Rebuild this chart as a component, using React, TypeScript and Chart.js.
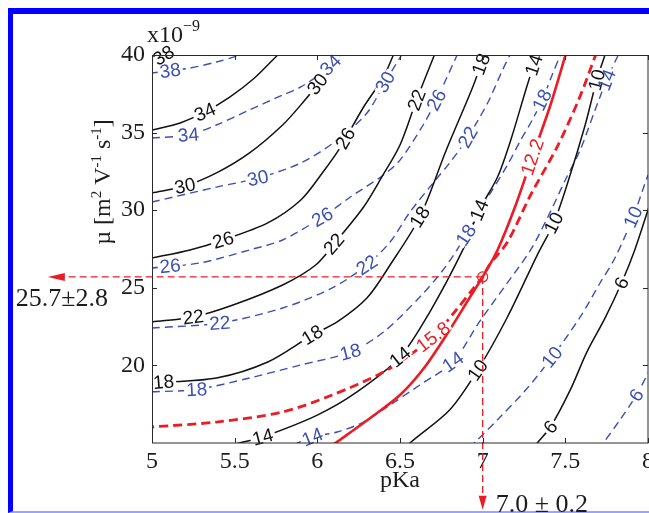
import React, { useEffect, useRef } from 'react';
import { Chart, registerables } from 'chart.js';

Chart.register(...registerables);

type Pt = [number, number];

// ---- axes ----
const xMin = 5;
const xMax = 8;
const yMin = 15;
const yMax = 40;
const xTickValues = [5, 5.5, 6, 6.5, 7, 7.5, 8];
const yTickValues = [20, 25, 30, 35, 40];

// ---- estimate (crosshair) ----
const estPKa = 7.0;
const errPKa = 0.2;
const estMu = 25.7;
const errMu = 2.8;
const arrowPKa = 4.37; // where the left arrow ends (pKa units)
const arrowMu = 10.7; // where the down arrow ends (mu units)

// ---- black solid contours (pKa, mu x1e-9) ----
const black38: Pt[] = [[4.98, 39.45], [5.0, 39.55], [5.04, 39.78], [5.09, 40.1]];
const black34: Pt[] = [[5.0, 35.17], [5.17, 35.62], [5.32, 36.33], [5.47, 37.29], [5.62, 38.52], [5.76, 40.0], [5.8, 40.4]];
const black30: Pt[] = [[5.0, 31.11], [5.2, 31.56], [5.39, 32.4], [5.59, 33.69], [5.79, 35.49], [5.91, 36.91], [6.02, 38.39], [6.1, 40.0], [6.13, 40.5]];
const black26: Pt[] = [[5.0, 26.92], [5.23, 27.44], [5.43, 28.08], [5.7, 29.18], [5.9, 30.66], [6.03, 32.4], [6.14, 34.07], [6.28, 36.65], [6.4, 38.58], [6.46, 40.0], [6.48, 40.5]];
const black22: Pt[] = [[5.0, 22.8], [5.25, 23.12], [5.49, 23.89], [5.79, 25.18], [5.99, 26.47], [6.11, 27.95], [6.28, 30.21], [6.39, 32.14], [6.5, 34.2], [6.6, 37.1], [6.72, 40.32]];
const black18: Pt[] = [[5.0, 18.87], [5.39, 19.19], [5.7, 20.22], [5.97, 21.96], [6.12, 22.8], [6.3, 24.34], [6.44, 26.47], [6.62, 29.56], [6.78, 33.88], [6.94, 37.94], [7.01, 40.0], [7.04, 40.97]];
const black14: Pt[] = [[5.38, 14.62], [5.53, 15.0], [5.67, 15.39], [6.0, 16.8], [6.24, 18.29], [6.5, 20.54], [6.68, 23.44], [6.88, 27.44], [6.98, 30.01], [7.09, 32.14], [7.17, 34.52], [7.27, 38.07], [7.33, 40.0], [7.35, 40.6]];
const black10: Pt[] = [[6.53, 14.55], [6.56, 15.0], [6.8, 17.13], [6.97, 19.7], [7.15, 23.12], [7.33, 27.11], [7.43, 29.18], [7.51, 31.62], [7.62, 35.49], [7.69, 38.39], [7.74, 40.0], [7.76, 40.6]];
const black6: Pt[] = [[7.3, 14.55], [7.33, 15.0], [7.41, 16.03], [7.53, 18.42], [7.63, 20.86], [7.74, 23.05], [7.84, 25.31], [7.92, 27.44], [8.01, 30.34]];

// ---- blue dashed contours ----
const blue38: Pt[] = [[5.0, 38.84], [5.23, 39.16], [5.39, 39.55], [5.53, 40.0], [5.57, 40.3]];
const blue34: Pt[] = [[5.0, 34.65], [5.22, 34.85], [5.39, 35.49], [5.59, 36.46], [5.79, 37.42], [5.9, 37.94], [6.05, 39.03], [6.14, 40.0], [6.17, 40.4]];
const blue30: Pt[] = [[5.0, 30.53], [5.39, 31.49], [5.64, 32.07], [5.9, 33.04], [6.12, 34.52], [6.3, 36.26], [6.41, 38.26], [6.51, 40.0], [6.54, 40.5]];
const blue26: Pt[] = [[5.0, 26.28], [5.29, 26.6], [5.59, 27.44], [5.79, 28.08], [6.03, 29.56], [6.2, 30.85], [6.4, 32.27], [6.5, 33.23], [6.64, 35.49], [6.72, 37.1], [6.84, 39.87], [6.86, 40.32]];
const blue22: Pt[] = [[5.0, 22.41], [5.41, 22.73], [5.79, 23.7], [6.09, 24.99], [6.3, 26.47], [6.44, 27.95], [6.56, 29.88], [6.7, 31.75], [6.8, 33.04], [6.9, 34.52], [7.03, 36.91], [7.12, 39.03], [7.18, 40.32]];
const blue18: Pt[] = [[5.0, 18.3], [5.27, 18.45], [5.59, 19.19], [5.9, 20.03], [6.2, 20.86], [6.4, 22.15], [6.62, 24.41], [6.77, 26.28], [6.9, 28.4], [7.04, 30.98], [7.15, 32.91], [7.23, 34.52], [7.3, 35.81], [7.36, 37.1], [7.42, 38.71], [7.47, 40.0], [7.49, 40.5]];
const blue14: Pt[] = [[5.8, 14.75], [5.88, 15.0], [5.97, 15.39], [6.12, 15.71], [6.28, 16.35], [6.44, 17.45], [6.62, 18.74], [6.82, 20.22], [6.98, 22.8], [7.14, 25.18], [7.29, 27.44], [7.4, 29.69], [7.5, 31.95], [7.59, 33.88], [7.68, 36.46], [7.75, 38.39], [7.82, 40.0], [7.84, 40.4]];
const blue10: Pt[] = [[6.92, 14.68], [6.95, 15.0], [7.1, 16.61], [7.26, 18.41], [7.42, 20.54], [7.59, 23.12], [7.71, 25.31], [7.8, 26.92], [7.91, 29.56], [8.0, 32.27], [8.04, 33.23]];
const blue6: Pt[] = [[7.7, 14.55], [7.73, 15.0], [7.83, 16.48], [7.93, 18.09], [8.01, 19.7]];

// ---- red contours ----
const red122: Pt[] = [[6.05, 14.55], [6.11, 15.0], [6.32, 16.61], [6.5, 18.09], [6.65, 19.9], [6.8, 22.28], [6.92, 24.34], [7.0, 25.7], [7.09, 27.44], [7.2, 30.34], [7.3, 33.43], [7.41, 36.78], [7.51, 40.32]];
const red158: Pt[] = [[4.96, 15.97], [5.0, 16.03], [5.39, 16.35], [5.79, 17.0], [6.09, 18.09], [6.4, 19.57], [6.56, 20.67], [6.7, 21.83], [6.84, 23.57], [6.95, 25.05], [7.0, 25.7], [7.04, 26.47], [7.15, 27.95], [7.29, 30.98], [7.45, 34.07], [7.58, 37.1], [7.69, 40.19]];

// ---- styles ----
const SERIF = "'Liberation Serif', 'Times New Roman', serif";
const SANS = "'Liberation Sans', Arial, Helvetica, sans-serif";
const INK = '#1c1c1c';
const BLACK = '#111111';
const BLUE = '#3a50b4';
const RED = '#ec1c24';

interface Contour {
  text: string;
  pts: Pt[];
  labels: number[];
  color: string;
  width: number;
  dash: number[];
}

const solid = (text: string, pts: Pt[], labels: number[]): Contour => ({ text, pts, labels, color: BLACK, width: 1.5, dash: [] });
const dashed = (text: string, pts: Pt[], labels: number[]): Contour => ({ text, pts, labels, color: BLUE, width: 1.4, dash: [8, 5] });

const redContours: Contour[] = [
  { text: '12.2', pts: red122, labels: [7.3], color: RED, width: 2.6, dash: [] },
  { text: '15.8', pts: red158, labels: [6.7], color: RED, width: 2.8, dash: [9, 5] },
];
const blackContours: Contour[] = [
  solid('38', black38, [5.07]),
  solid('34', black34, [5.32]),
  solid('30', black30, [5.2, 6.0]),
  solid('26', black26, [5.43, 6.17]),
  solid('22', black22, [5.25, 6.1, 6.6]),
  solid('18', black18, [5.07, 5.97, 6.62, 6.99]),
  solid('14', black14, [5.67, 6.5, 6.98, 7.31]),
  solid('10', black10, [6.97, 7.43, 7.69]),
  solid('6', black6, [7.41, 7.84]),
];
const blueContours: Contour[] = [
  dashed('38', blue38, [5.11]),
  dashed('34', blue34, [5.22, 6.08]),
  dashed('30', blue30, [5.64, 6.41]),
  dashed('26', blue26, [5.11, 6.03, 6.72]),
  dashed('22', blue22, [5.41, 6.3, 6.91]),
  dashed('18', blue18, [5.27, 6.2, 6.9, 7.36]),
  dashed('14', blue14, [5.97, 6.82, 7.75]),
  dashed('10', blue10, [7.42, 7.91]),
  dashed('6', blue6, [7.93]),
];
const allContours: Contour[] = [...redContours, ...blackContours, ...blueContours];

function drawContourLabels(chart: any) {
  const { ctx } = chart;
  const xs = chart.scales.x;
  const ys = chart.scales.y;
  ctx.save();
  ctx.font = `19px ${SANS}`;
  const items: any[] = [];
  for (const c of allContours) {
    const px = c.pts.map(([x, y]) => [xs.getPixelForValue(x), ys.getPixelForValue(y)]);
    for (const lx of c.labels) {
      const X = xs.getPixelForValue(lx);
      let i = 0;
      while (i < px.length - 2 && px[i + 1][0] < X) i++;
      const [x1, y1] = px[i];
      const [x2, y2] = px[i + 1];
      const t = x2 === x1 ? 0 : (X - x1) / (x2 - x1);
      items.push({
        x: X,
        y: y1 + t * (y2 - y1),
        a: Math.atan2(y2 - y1, x2 - x1),
        text: c.text,
        color: c.color,
        w: ctx.measureText(c.text).width,
      });
    }
  }
  for (const it of items) {
    ctx.save();
    ctx.translate(it.x, it.y);
    ctx.rotate(it.a);
    ctx.fillStyle = '#ffffff';
    ctx.fillRect(-it.w / 2 - 2, -5, it.w + 4, 10);
    ctx.restore();
  }
  ctx.textAlign = 'center';
  ctx.textBaseline = 'middle';
  for (const it of items) {
    ctx.save();
    ctx.translate(it.x, it.y);
    ctx.rotate(it.a);
    ctx.fillStyle = it.color;
    ctx.fillText(it.text, 0, 1);
    ctx.restore();
  }
  ctx.restore();
}

type Part = { t: string; sup?: boolean };

function drawRich(ctx: any, parts: Part[], mainSize: number, supSize: number, supRise: number, startX: number) {
  let x = startX;
  for (const p of parts) {
    ctx.font = `${p.sup ? supSize : mainSize}px ${SERIF}`;
    ctx.fillText(p.t, x, p.sup ? -supRise : 0);
    x += ctx.measureText(p.t).width;
  }
}

function richWidth(ctx: any, parts: Part[], mainSize: number, supSize: number) {
  let w = 0;
  for (const p of parts) {
    ctx.font = `${p.sup ? supSize : mainSize}px ${SERIF}`;
    w += ctx.measureText(p.t).width;
  }
  return w;
}

function drawFrameAndNotes(chart: any) {
  const { ctx, chartArea } = chart;
  const { left, right, top, bottom } = chartArea;
  const xs = chart.scales.x;
  const ys = chart.scales.y;
  ctx.save();
  // box
  ctx.strokeStyle = '#2a2a2a';
  ctx.lineWidth = 1;
  ctx.strokeRect(left + 0.5, top + 0.5, right - left - 0.5, bottom - top - 0.5);
  // inward ticks
  ctx.beginPath();
  for (const v of xTickValues) {
    const x = Math.round(xs.getPixelForValue(v)) + 0.5;
    ctx.moveTo(x, bottom);
    ctx.lineTo(x, bottom - 5);
    ctx.moveTo(x, top);
    ctx.lineTo(x, top + 5);
  }
  for (const v of yTickValues) {
    const y = Math.round(ys.getPixelForValue(v)) + 0.5;
    ctx.moveTo(left, y);
    ctx.lineTo(left + 5, y);
    ctx.moveTo(right, y);
    ctx.lineTo(right - 5, y);
  }
  ctx.stroke();

  // arrowheads
  const cx = xs.getPixelForValue(estPKa);
  const cy = ys.getPixelForValue(estMu);
  const lx = xs.getPixelForValue(arrowPKa);
  const by = ys.getPixelForValue(arrowMu);
  ctx.fillStyle = RED;
  ctx.beginPath();
  ctx.moveTo(lx, cy);
  ctx.lineTo(lx + 17, cy - 4);
  ctx.lineTo(lx + 17, cy + 4);
  ctx.closePath();
  ctx.fill();
  ctx.beginPath();
  ctx.moveTo(cx, by);
  ctx.lineTo(cx - 4, by - 14);
  ctx.lineTo(cx + 4, by - 14);
  ctx.closePath();
  ctx.fill();

  // estimate labels
  ctx.fillStyle = INK;
  ctx.font = `26px ${SERIF}`;
  ctx.textBaseline = 'alphabetic';
  ctx.textAlign = 'center';
  ctx.fillText(`${estMu.toFixed(1)}\u00B1${errMu.toFixed(1)}`, lx + 14, cy + 29);
  ctx.textAlign = 'left';
  ctx.fillText(`${estPKa.toFixed(1)} \u00B1 ${errPKa.toFixed(1)}`, cx + 13, by + 2);
  ctx.restore();

  // exponent label
  ctx.save();
  ctx.fillStyle = INK;
  ctx.textBaseline = 'alphabetic';
  ctx.textAlign = 'left';
  ctx.translate(left - 5, top - 13);
  drawRich(ctx, [{ t: 'x10' }, { t: '\u22129', sup: true }], 24, 16, 11, 0);
  ctx.restore();

  // y axis title
  ctx.save();
  ctx.fillStyle = INK;
  ctx.textBaseline = 'alphabetic';
  ctx.textAlign = 'left';
  const parts: Part[] = [
    { t: '\u00B5 [m' },
    { t: '2', sup: true },
    { t: ' V' },
    { t: '-1', sup: true },
    { t: ' s' },
    { t: '-1', sup: true },
    { t: ']' },
  ];
  const w = richWidth(ctx, parts, 24, 15);
  ctx.translate(left - 42, (top + bottom) / 2 - 67);
  ctx.rotate(-Math.PI / 2);
  drawRich(ctx, parts, 24, 15, 9, -w / 2);
  ctx.restore();
}

const frameNotesPlugin = {
  id: 'frameNotes',
  afterDatasetDraw(chart: any, args: any) {
    if (args.index === 2) drawContourLabels(chart);
  },
  afterDraw(chart: any) {
    drawFrameAndNotes(chart);
  },
};

export default function App() {
  const ref = useRef<HTMLCanvasElement>(null);
  useEffect(() => {
    const canvas = ref.current;
    if (!canvas) return;
    const crossH = {
      data: [{ x: estPKa, y: estMu }, { x: arrowPKa + 0.05, y: estMu }],
      showLine: true,
      borderColor: RED,
      borderWidth: 1.3,
      borderDash: [7, 4],
      pointRadius: [5, 0],
      pointBorderColor: RED,
      pointBorderWidth: 1.2,
      pointBackgroundColor: 'rgba(0,0,0,0)',
      tension: 0,
      clip: false,
    };
    const crossV = {
      data: [{ x: estPKa, y: estMu }, { x: estPKa, y: arrowMu + 0.4 }],
      showLine: true,
      borderColor: RED,
      borderWidth: 1.3,
      borderDash: [7, 4],
      pointRadius: 0,
      tension: 0,
      clip: false,
    };
    const contourSets = allContours.map((c) => ({
      data: c.pts.map(([x, y]) => ({ x, y })),
      showLine: true,
      borderColor: c.color,
      borderWidth: c.width,
      borderDash: c.dash,
      pointRadius: 0,
      tension: 0.3,
      fill: false,
    }));
    const tickFont = { family: SERIF, size: 24 };
    const chart = new Chart(canvas, {
      type: 'scatter',
      data: { datasets: [crossH, crossV, ...contourSets] as any },
      options: {
        animation: false,
        responsive: false,
        devicePixelRatio: 1,
        events: [],
        layout: { padding: { left: 0, right: 1, top: 55, bottom: 0 }, autoPadding: false },
        elements: { line: { capBezierPoints: false } },
        plugins: { legend: { display: false }, tooltip: { enabled: false } },
        scales: {
          x: {
            type: 'linear',
            min: xMin,
            max: xMax,
            afterBuildTicks: (s: any) => {
              s.ticks = xTickValues.map((v) => ({ value: v }));
            },
            afterFit: (s: any) => {
              s.height = 70;
              s.paddingLeft = 0;
              s.paddingRight = 0;
            },
            grid: { display: false, drawTicks: false },
            border: { display: false },
            ticks: { color: INK, font: tickFont, padding: 4, maxRotation: 0, autoSkip: false, callback: (v: any) => String(v) },
            title: { display: true, text: 'pKa', color: INK, font: tickFont, padding: { top: 0, bottom: 18 } },
          },
          y: {
            type: 'linear',
            min: yMin,
            max: yMax,
            afterBuildTicks: (s: any) => {
              s.ticks = yTickValues.map((v) => ({ value: v }));
            },
            afterFit: (s: any) => {
              s.width = 152;
              s.paddingTop = 0;
              s.paddingBottom = 0;
            },
            grid: { display: false, drawTicks: false },
            border: { display: false },
            ticks: { color: INK, font: tickFont, padding: 7, autoSkip: false, callback: (v: any) => String(v) },
          },
        },
      } as any,
      plugins: [frameNotesPlugin],
    });
    return () => chart.destroy();
  }, []);

  return (
    <div style={{ position: 'fixed', left: 0, top: 0, width: 649, height: 513, overflow: 'hidden', background: '#ffffff' }}>
      <div
        style={{
          position: 'absolute',
          left: 8,
          top: 8,
          width: 700,
          height: 505,
          boxSizing: 'border-box',
          borderLeft: '5px solid #0000ff',
          borderTop: '6px solid #0000ff',
          borderBottom: '2px solid #9aa4ff',
        }}
      />
      <canvas ref={ref} width={649} height={513} style={{ position: 'absolute', left: 0, top: 0, width: 649, height: 513 }} />
    </div>
  );
}
